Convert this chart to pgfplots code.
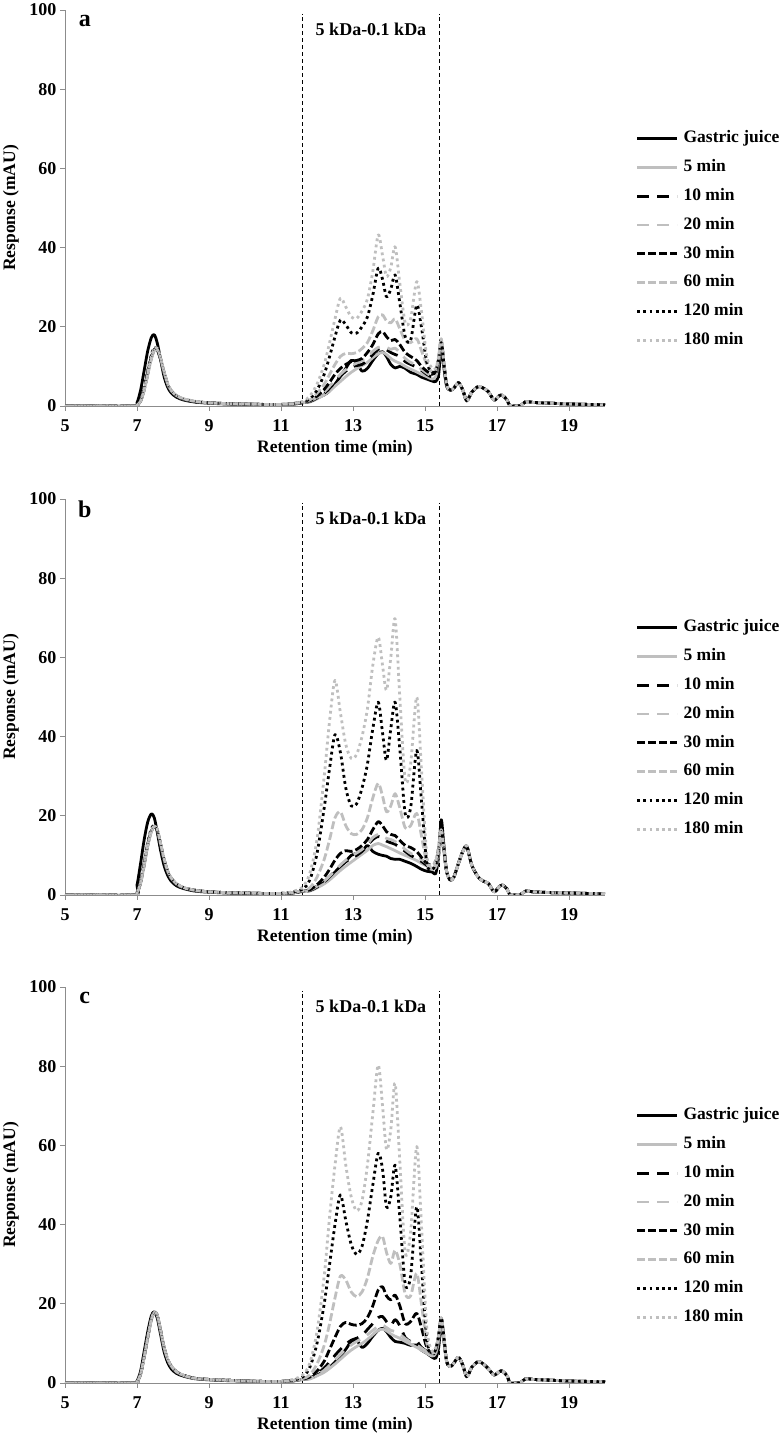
\documentclass[border=0pt]{standalone}
\usepackage{fontspec}
\setmainfont{Liberation Serif}
\usepackage{pgfplots}
\usepackage{pgfplotstable}
\pgfplotsset{compat=1.18}
\definecolor{lgray}{HTML}{BFBFBF}
\definecolor{axgray}{HTML}{8C8C8C}
\newcommand\tfont{\bfseries\fontsize{18}{18}\selectfont}
\newcommand\gfont{\bfseries\fontsize{17.5}{17.5}\selectfont}
\newcommand\lfont{\bfseries\fontsize{17.5}{17.5}\selectfont}

\pgfplotstableread{
x gj m5 m10 m20 m30 m60 m120 m180
5 0 0 0 0 0 0 0 0
6.9 0 0 0 0 0 0 0 0
7.0 0.8 0.2 0.2 0.2 0.2 0.2 0.3 0.2
7.1 4 1.2 1.3 1.2 1.3 1.2 1.5 1.3
7.2 9 4 4.2 4 4.3 4 4.8 4.2
7.3 14 8 8.3 8 8.5 8 9 8.3
7.4 17.3 12 12.3 12 12.5 12 13 12.5
7.48 18 14 14.2 14 14.3 14 14.8 14.5
7.56 16 14.2 14.2 14.3 14.2 14.3 14.3 14.6
7.65 12 12 12 12.2 12 12.2 12 12.3
7.75 7.5 8.5 8.5 8.7 8.5 8.7 8.3 8.7
7.85 4.8 5.5 5.5 5.7 5.5 5.7 5.4 5.7
7.95 3.3 3.8 3.8 3.9 3.8 3.9 3.7 3.9
8.1 2.2 2.5 2.5 2.6 2.5 2.6 2.5 2.6
8.3 1.5 1.7 1.7 1.8 1.7 1.8 1.7 1.8
8.6 1.0 1.1 1.1 1.2 1.1 1.2 1.1 1.2
9 0.7 0.8 0.8 0.8 0.8 0.8 0.8 0.8
9.5 0.5 0.6 0.6 0.6 0.6 0.6 0.6 0.6
10 0.4 0.5 0.5 0.5 0.5 0.5 0.5 0.5
10.5 0.3 0.4 0.4 0.4 0.4 0.4 0.4 0.4
11 0.3 0.4 0.4 0.4 0.4 0.4 0.4 0.4
11.3 0.4 0.5 0.5 0.5 0.5 0.5 0.6 0.6
11.6 0.8 0.9 0.9 0.9 0.9 1.0 1.0 1.1
11.8 1.2 1.0 1.1 1.2 1.3 1.5 1.8 2.5
12.0 2.0 1.8 2.0 2.2 2.5 3.2 4.0 5.5
12.2 2.8 2.8 3.2 3.5 4.2 5.5 8.0 10.5
12.35 3.8 3.8 4.5 5.0 6.0 8.0 12.5 16
12.5 5.5 5.0 6.0 6.5 8.0 10.5 17.5 22
12.65 7.5 6.2 7.5 8.0 9.5 12.5 21.7 27.2
12.8 9.5 7.4 8.8 9.2 10.5 13.3 20.5 25
12.95 11.5 8.5 9.8 10.2 11.2 13.2 18.5 22.5
13.1 11.0 9.4 10.2 10.8 11.5 13.5 18.4 22.1
13.25 8.8 10.2 10.5 11.5 12.0 14.5 20.0 24
13.4 9.5 11.0 11.5 12.5 13.5 16.0 22.5 27
13.55 11.5 12.2 13 13.8 15.5 19.0 28 34
13.7 13.2 13.2 14.3 14.8 18.2 22.5 34.8 43.2
13.82 13.7 13.5 14.6 15.0 18.8 23.0 32 38
13.93 12.5 13.0 14.2 14.8 17.5 21.5 27.6 32.7
14.05 10.5 12.0 13.5 14.3 16.5 21.0 29.5 35
14.17 9.6 11.3 13.0 14.6 16.8 22.0 33.1 40.2
14.3 10.0 10.8 12.5 13.5 15.5 19.5 26 31
14.45 9.5 10.0 11.2 12 13.5 16.5 17.5 21
14.6 8.5 9.3 10.5 11 12.5 16.0 16.5 22
14.77 8.0 8.6 9.8 10.3 11.5 17.0 25.5 31.4
14.9 7.3 8.0 9.0 9.3 10.0 14.0 20 24
15.05 6.8 7.4 8.0 8.3 8.8 10.5 11 12.5
15.2 6.3 6.8 7.3 7.5 8.0 8.5 8.5 9.5
15.3 6.2 7.5 8 8.5 8.8 9 9 9.5
15.38 8 11 11.5 12 12 12.5 12 12.5
15.45 15 16 16.5 17 16.5 17 16 17
15.52 10 11 11 11.5 11 11.5 11 11.5
15.6 5 5.5 5.5 5.5 5.5 5.5 5.5 5.5
15.7 4.0 4.0 4.0 4.0 4.0 4.0 4.0 4.0
15.8 4.5 4.5 4.5 4.5 4.5 4.5 4.5 4.5
15.93 5.9 5.9 5.9 5.9 5.9 5.9 5.9 5.9
16.05 4.0 4.0 4.0 4.0 4.0 4.0 4.0 4.0
16.16 1.3 1.3 1.3 1.3 1.3 1.3 1.3 1.3
16.3 3.5 3.5 3.5 3.5 3.5 3.5 3.5 3.5
16.48 4.9 4.9 4.9 4.9 4.9 4.9 4.9 4.9
16.62 4.5 4.5 4.5 4.5 4.5 4.5 4.5 4.5
16.76 3.6 3.6 3.6 3.6 3.6 3.6 3.6 3.6
16.92 1.5 1.5 1.5 1.5 1.5 1.5 1.5 1.5
17.05 2.5 2.5 2.5 2.5 2.5 2.5 2.5 2.5
17.15 2.7 2.7 2.7 2.7 2.7 2.7 2.7 2.7
17.28 1.5 1.5 1.5 1.5 1.5 1.5 1.5 1.5
17.36 0 0 0 0 0 0 0 0
17.5 0 0 0 0 0 0 0 0
17.65 0.1 0.1 0.1 0.1 0.1 0.1 0.1 0.1
17.8 1.1 1.1 1.1 1.1 1.1 1.1 1.1 1.1
18 0.9 0.9 0.9 0.9 0.9 0.9 0.9 0.9
18.5 0.7 0.7 0.7 0.7 0.7 0.7 0.7 0.7
19 0.5 0.5 0.5 0.5 0.5 0.5 0.5 0.5
19.5 0.4 0.4 0.4 0.4 0.4 0.4 0.4 0.4
20 0.3 0.3 0.3 0.3 0.3 0.3 0.3 0.3
}\tA

\pgfplotstableread{
x gj m5 m10 m20 m30 m60 m120 m180
5 0 0 0 0 0 0 0 0
6.9 0 0 0 0 0 0 0 0
7.0 2.5 0.5 0.5 0.5 0.5 0.5 0.6 0.5
7.1 8 3 3.2 3 3.2 3 3.5 3.2
7.2 14 7.5 7.8 7.5 7.8 7.5 8.2 7.8
7.3 18.5 12.5 12.8 12.5 12.8 12.5 13.3 12.8
7.4 20.5 16 16.2 16 16.3 16 16.8 16.3
7.48 19.5 17.2 17.2 17.3 17.2 17.3 17.5 17.4
7.56 16 16.5 16.5 16.6 16.5 16.6 16.4 16.7
7.65 11.5 13 13 13.2 13 13.2 12.8 13.3
7.75 7.5 9 9 9.2 9 9.2 8.8 9.2
7.85 5 6 6 6.1 6 6.1 5.9 6.1
7.95 3.5 4.2 4.2 4.3 4.2 4.3 4.1 4.3
8.1 2.3 2.7 2.7 2.8 2.7 2.8 2.7 2.8
8.3 1.6 1.8 1.8 1.9 1.8 1.9 1.8 1.9
8.6 1.0 1.2 1.2 1.2 1.2 1.2 1.2 1.2
9 0.7 0.8 0.8 0.8 0.8 0.8 0.8 0.8
9.5 0.5 0.6 0.6 0.6 0.6 0.6 0.6 0.6
10 0.4 0.5 0.5 0.5 0.5 0.5 0.5 0.5
10.5 0.3 0.4 0.4 0.4 0.4 0.4 0.4 0.4
11 0.3 0.4 0.4 0.4 0.4 0.4 0.4 0.4
11.3 0.5 0.5 0.5 0.5 0.5 0.6 0.7 0.8
11.6 0.9 0.9 0.9 1.0 1.0 1.1 1.5 2.0
11.8 1.3 1.0 1.1 1.2 1.3 1.8 3.8 5.5
12.0 2.2 1.8 2.0 2.2 2.6 4.5 10.5 14
12.2 3.2 2.8 3.3 3.5 4.5 9.0 22 30
12.35 4.3 3.8 4.6 4.8 6.5 14 32 44
12.5 5.8 5.0 6.0 6.2 8.8 19.5 40.5 54.2
12.65 7.2 6.2 7.3 7.6 10.5 21 36 46
12.8 8.5 7.3 8.4 8.8 11.2 17.5 27 38
12.95 10.0 8.3 9.3 9.8 11.0 15.5 22.5 34.5
13.1 10.5 9.3 10.0 10.6 11.5 15.3 23 35.5
13.25 11.0 10.3 11.0 11.5 12.5 16.5 27 40
13.4 12.5 11.3 12.5 12.8 14.0 19.5 33 47
13.55 11.0 12.5 14.0 14.5 16.5 24.5 42 58
13.7 10.3 13.0 14.8 15.3 18.5 28.2 48.7 65.1
13.82 10.0 12.6 14.3 14.8 17.5 25 41 58
13.93 9.8 12.2 13.6 14.3 16.0 21 34 51.7
14.05 9.2 11.7 13.2 14.0 15.3 22.5 42 60
14.17 9.0 11.2 12.8 13.5 15.0 25.6 48.7 69.7
14.3 9.0 10.6 12.0 12.8 13.8 22 37 50
14.45 8.5 10.0 11.0 11.5 12.5 17 20.5 29
14.6 8.0 9.4 10.0 10.5 12.0 17.5 22 33
14.77 7.2 8.7 9.2 9.8 11.0 20.6 36.5 50
14.9 6.5 8.0 8.5 9.0 9.5 15 24 32
15.05 6.0 7.3 7.5 8.0 8.0 8 8 10
15.2 5.8 6.5 6.8 7.2 7.5 7 6.5 7.5
15.3 5.5 7 7.5 8 8.5 8.5 8 9
15.38 10 10 10.5 11 12 12 11.5 12
15.45 19 15 16 16 17 16.5 16 16.5
15.52 13 11 11.5 11.5 12 12 12 12
15.6 6 6 6 6 6 6 6 6
15.7 3.8 3.8 3.8 3.8 3.8 3.8 3.8 3.8
15.8 4.5 4.5 4.5 4.5 4.5 4.5 4.5 4.5
15.93 8 8 8 8 8 8 8 8
16.05 11 11 11 11 11 11 11 11
16.16 12.3 12.3 12.3 12.3 12.3 12.3 12.3 12.3
16.3 7.5 7.5 7.5 7.5 7.5 7.5 7.5 7.5
16.48 4.5 4.5 4.5 4.5 4.5 4.5 4.5 4.5
16.62 3.5 3.5 3.5 3.5 3.5 3.5 3.5 3.5
16.76 2.9 2.9 2.9 2.9 2.9 2.9 2.9 2.9
16.92 0.8 0.8 0.8 0.8 0.8 0.8 0.8 0.8
17.05 2.0 2.0 2.0 2.0 2.0 2.0 2.0 2.0
17.15 2.5 2.5 2.5 2.5 2.5 2.5 2.5 2.5
17.28 1.5 1.5 1.5 1.5 1.5 1.5 1.5 1.5
17.36 0 0 0 0 0 0 0 0
17.5 0 0 0 0 0 0 0 0
17.65 0.1 0.1 0.1 0.1 0.1 0.1 0.1 0.1
17.8 1.0 1.0 1.0 1.0 1.0 1.0 1.0 1.0
18 0.8 0.8 0.8 0.8 0.8 0.8 0.8 0.8
18.5 0.6 0.6 0.6 0.6 0.6 0.6 0.6 0.6
19 0.5 0.5 0.5 0.5 0.5 0.5 0.5 0.5
19.5 0.4 0.4 0.4 0.4 0.4 0.4 0.4 0.4
20 0.3 0.3 0.3 0.3 0.3 0.3 0.3 0.3
}\tB

\pgfplotstableread{
x gj m5 m10 m20 m30 m60 m120 m180
5 0 0 0 0 0 0 0 0
6.9 0 0 0 0 0 0 0 0
7.0 0.5 0.3 0.3 0.3 0.3 0.3 0.4 0.3
7.1 3 2.2 2.3 2.2 2.3 2.2 2.5 2.3
7.2 8 6.5 6.7 6.5 6.7 6.5 7 6.7
7.3 13 11.5 11.7 11.5 11.7 11.5 12 11.7
7.4 17 16 16.2 16 16.2 16 16.5 16.2
7.48 18 17.8 17.8 17.8 17.8 17.8 18 17.9
7.56 16.5 17.2 17.2 17.3 17.2 17.3 17.1 17.3
7.65 12.5 13.5 13.5 13.6 13.5 13.6 13.3 13.6
7.75 8 9 9 9.1 9 9.1 8.8 9.1
7.85 5.2 6 6 6.1 6 6.1 5.9 6.1
7.95 3.6 4.2 4.2 4.3 4.2 4.3 4.1 4.3
8.1 2.4 2.8 2.8 2.8 2.8 2.8 2.7 2.8
8.3 1.7 1.9 1.9 1.9 1.9 1.9 1.9 1.9
8.6 1.1 1.2 1.2 1.2 1.2 1.2 1.2 1.2
9 0.8 0.9 0.9 0.9 0.9 0.9 0.9 0.9
9.5 0.6 0.7 0.7 0.7 0.7 0.7 0.7 0.7
10 0.5 0.5 0.5 0.5 0.5 0.5 0.5 0.5
10.5 0.4 0.4 0.4 0.4 0.4 0.4 0.4 0.4
11 0.4 0.4 0.4 0.4 0.4 0.4 0.4 0.4
11.3 0.5 0.5 0.5 0.5 0.6 0.6 0.7 0.8
11.6 0.9 0.9 0.9 0.9 1.0 1.1 1.5 2.0
11.8 1.2 1.0 1.2 1.1 1.5 2.0 4.0 5.0
12.0 2.0 1.8 2.3 2.0 3.0 4.8 10.0 13.0
12.2 2.9 2.7 3.8 3.2 5.5 9.5 20.0 27.0
12.35 3.9 3.7 5.3 4.5 8.5 15.0 30.0 42.0
12.5 5.3 4.8 7.0 5.8 11.5 21.5 40.0 55.0
12.65 6.8 6.0 8.5 7.2 14.3 27.0 47.5 64.7
12.8 8.5 7.2 9.8 8.5 15.3 26.0 41.0 55.0
12.95 10.5 8.3 10.8 9.6 14.8 23.0 35.0 47.0
13.1 10.8 9.2 11.3 10.5 14.6 21.8 32.5 43.5
13.25 9.0 10.0 12.0 11.3 15.0 23.0 34.5 46.0
13.4 10.0 11.0 13.5 12.2 16.5 26.5 41.0 55.0
13.55 11.8 12.2 15.0 13.3 19.5 32.0 50.0 68.0
13.7 13.3 13.3 16.5 14.3 23.5 36.0 58.0 80.3
13.82 13.8 13.6 16.8 14.6 24.3 37.0 54.0 70.0
13.93 13.0 13.2 15.5 14.0 22.0 33.0 44.5 59.0
14.05 11.5 12.4 14.5 13.3 21.0 30.2 47.0 64.0
14.17 10.5 11.8 16.0 13.0 22.2 33.5 55.0 75.7
14.3 10.3 11.3 14.5 12.3 19.5 30.0 42.0 56.0
14.45 10.0 10.5 11.5 11.2 15.0 22.5 25.0 33.0
14.6 9.5 9.8 10.5 10.3 15.5 22.0 27.0 38.0
14.77 9.6 9.0 10.5 9.6 17.6 27.7 44.5 59.7
14.9 8.3 8.3 9.0 8.8 14.0 20.0 30.0 40.0
15.05 7.5 7.5 8.0 7.9 9.0 10.0 11.0 14.0
15.2 6.5 6.8 7.2 7.0 7.5 7.5 7.5 8.0
15.3 6.3 7.5 8.0 7.8 8.5 8.5 8.5 9.0
15.38 9 11 11.5 11 12 12 12 12
15.45 15 15.5 16 16 16.5 16.5 16.5 16.5
15.52 11 11.5 11.5 11.5 12 12 12 12
15.6 5.5 5.5 5.5 5.5 5.5 5.5 5.5 5.5
15.7 4.1 4.1 4.1 4.1 4.1 4.1 4.1 4.1
15.8 5.0 5.0 5.0 5.0 5.0 5.0 5.0 5.0
15.93 6.5 6.5 6.5 6.5 6.5 6.5 6.5 6.5
16.05 4.5 4.5 4.5 4.5 4.5 4.5 4.5 4.5
16.16 1.6 1.6 1.6 1.6 1.6 1.6 1.6 1.6
16.3 4.0 4.0 4.0 4.0 4.0 4.0 4.0 4.0
16.48 5.4 5.4 5.4 5.4 5.4 5.4 5.4 5.4
16.62 4.8 4.8 4.8 4.8 4.8 4.8 4.8 4.8
16.76 3.6 3.6 3.6 3.6 3.6 3.6 3.6 3.6
16.92 2.0 2.0 2.0 2.0 2.0 2.0 2.0 2.0
17.05 2.8 2.8 2.8 2.8 2.8 2.8 2.8 2.8
17.15 3.0 3.0 3.0 3.0 3.0 3.0 3.0 3.0
17.28 1.8 1.8 1.8 1.8 1.8 1.8 1.8 1.8
17.36 0 0 0 0 0 0 0 0
17.5 0 0 0 0 0 0 0 0
17.65 0.1 0.1 0.1 0.1 0.1 0.1 0.1 0.1
17.8 1.1 1.1 1.1 1.1 1.1 1.1 1.1 1.1
18 0.9 0.9 0.9 0.9 0.9 0.9 0.9 0.9
18.5 0.7 0.7 0.7 0.7 0.7 0.7 0.7 0.7
19 0.5 0.5 0.5 0.5 0.5 0.5 0.5 0.5
19.5 0.4 0.4 0.4 0.4 0.4 0.4 0.4 0.4
20 0.3 0.3 0.3 0.3 0.3 0.3 0.3 0.3
}\tC

\pgfplotsset{
  panel/.style={
    scale only axis, width=540pt, height=396pt,
    xmin=5, xmax=20, ymin=0, ymax=100,
    xtick={5,7,...,19}, ytick={0,20,...,100},
    axis x line*=bottom, axis y line*=left,
    axis line style={draw=axgray, line width=0.8pt, -},
    tick style={draw=axgray, line width=0.8pt},
    tick align=outside, major tick length=5pt,
    /pgf/number format/assume math mode=true,
    ticklabel style={font=\tfont},
    xticklabel style={yshift=-5pt},
    xlabel={Retention time (min)}, ylabel={Response (mAU)},
    label style={font=\lfont},
    xlabel style={at={(axis description cs:0.5,-0.108)}, anchor=center},
    ylabel style={at={(axis description cs:-0.1,0.5)}, anchor=center},
    legend cell align=left,
    legend style={draw=none, fill=none, at={(1.057,0.696)}, anchor=north west,
      inner sep=0pt, outer sep=0pt, font=\gfont, row sep=12.3pt,
      nodes={inner sep=0pt, text height=12.5pt, text depth=4pt},
      /tikz/every odd column/.append style={column sep=5pt}},
    legend image code/.code={\draw[#1] (0pt,0pt) -- (40pt,0pt);},
    every axis plot/.append style={smooth, tension=0.5, line join=round},
  },
  sgj/.style={black, line width=2.8pt},
  s5/.style={lgray, line width=2.8pt},
  s10/.style={black, line width=2.8pt, dash pattern=on 12pt off 8pt},
  s20/.style={lgray, line width=2.8pt, dash pattern=on 12pt off 8pt},
  s30/.style={black, line width=2.8pt, dash pattern=on 8pt off 3pt},
  s60/.style={lgray, line width=2.8pt, dash pattern=on 8pt off 3pt},
  s120/.style={black, line width=2.8pt, dash pattern=on 2.8pt off 3.4pt},
  s180/.style={lgray, line width=2.8pt, dash pattern=on 2.8pt off 3.4pt},
  vref/.style={black, line width=0.9pt, dash pattern=on 4pt off 3pt, sharp plot, forget plot},
}

\newcommand\panel[3]{%
  \addplot[vref] coordinates {(11.6,0) (11.6,99)};
  \addplot[vref] coordinates {(15.4,0) (15.4,99)};
  \addplot[sgj] table[x=x,y=gj]{#1};
  \addplot[s5] table[x=x,y=m5]{#1};
  \addplot[s10] table[x=x,y=m10]{#1};
  \addplot[s20] table[x=x,y=m20]{#1};
  \addplot[s30] table[x=x,y=m30]{#1};
  \addplot[s60] table[x=x,y=m60]{#1};
  \addplot[s120] table[x=x,y=m120]{#1};
  \addplot[s180] table[x=x,y=m180]{#1};
  \legend{Gastric juice,5 min,10 min,20 min,30 min,60 min,120 min,180 min}
  \node[font=\bfseries\fontsize{24}{24}\selectfont] at (axis cs:5.55,97.3) {#2};
  \node[font=\tfont] at (axis cs:13.5,95.2) {#3};
}

\begin{document}
\begin{tikzpicture}
\path[use as bounding box] (0,0) rectangle (780pt,1442pt);
\begin{axis}[panel, at={(65pt,1036pt)}, anchor=south west]
\panel{\tA}{a}{5 kDa-0.1 kDa}
\end{axis}
\begin{axis}[panel, at={(65pt,547pt)}, anchor=south west]
\panel{\tB}{b}{5 kDa-0.1 kDa}
\end{axis}
\begin{axis}[panel, at={(65pt,59pt)}, anchor=south west]
\panel{\tC}{c}{5 kDa-0.1 kDa}
\end{axis}
\end{tikzpicture}
\end{document}
